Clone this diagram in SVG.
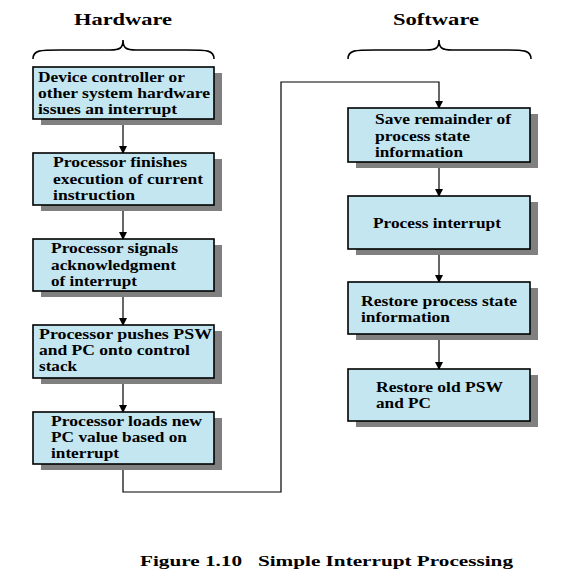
<svg xmlns="http://www.w3.org/2000/svg" width="576" height="584" viewBox="0 0 576 584">
<defs>
<marker id="ah" markerWidth="8" markerHeight="8" refX="7" refY="4" orient="auto" markerUnits="userSpaceOnUse">
<path d="M0,0 L8,4 L0,8 Z" fill="#000"/>
</marker>
</defs>
<style>
.box{fill:#C4E6F1;stroke:#000;stroke-width:1.6}
.sh{fill:#808080}
text{font-family:"Liberation Serif","Times New Roman",serif;font-weight:bold;fill:#000}
.t{font-size:15.5px}
.h{font-size:17px}
.c{font-size:15px}
.con{fill:none;stroke:#000;stroke-width:1.2}
.br{fill:none;stroke:#000;stroke-width:1.6}
</style>
<rect width="576" height="584" fill="#fff"/>
<g id="headers">
<text class="h" x="74" y="25" textLength="98" lengthAdjust="spacingAndGlyphs">Hardware</text>
<text class="h" x="393" y="25" textLength="86" lengthAdjust="spacingAndGlyphs">Software</text>
<path class="br" d="M33,59 C33,50 40,50 60,50 L110,50 C120,50 123,48 123,40 C123,48 126,50 136,50 L187,50 C207,50 214,50 214,59"/>
<path class="br" d="M348,59 C348,50 355,50 375,50 L426,50 C436,50 439,48 439,40 C439,48 442,50 452,50 L504,50 C524,50 531,50 531,59"/>
</g>
<g id="connectors">
<line class="con" x1="123" y1="119" x2="123" y2="153" marker-end="url(#ah)"/>
<line class="con" x1="123" y1="205" x2="123" y2="239" marker-end="url(#ah)"/>
<line class="con" x1="123" y1="291" x2="123" y2="325" marker-end="url(#ah)"/>
<line class="con" x1="123" y1="378" x2="123" y2="412" marker-end="url(#ah)"/>
<path class="con" d="M123,464 V492 H281 V82 H439 V108" marker-end="url(#ah)"/>
<line class="con" x1="439" y1="162" x2="439" y2="196" marker-end="url(#ah)"/>
<line class="con" x1="439" y1="249" x2="439" y2="282" marker-end="url(#ah)"/>
<line class="con" x1="439" y1="334" x2="439" y2="369" marker-end="url(#ah)"/>
</g>
<g id="h1">
<rect class="sh" x="41" y="73" width="181" height="52"/>
<rect class="box" x="33" y="67" width="181" height="52"/>
<text class="t" x="38" y="82" textLength="147" lengthAdjust="spacingAndGlyphs">Device controller or</text>
<text class="t" x="38" y="98" textLength="172" lengthAdjust="spacingAndGlyphs">other system hardware</text>
<text class="t" x="38" y="114" textLength="139" lengthAdjust="spacingAndGlyphs">issues an interrupt</text>
</g>
<g id="h2">
<rect class="sh" x="41" y="159" width="181" height="52"/>
<rect class="box" x="33" y="153" width="181" height="52"/>
<text class="t" x="53" y="167" textLength="134" lengthAdjust="spacingAndGlyphs">Processor finishes</text>
<text class="t" x="53" y="184" textLength="150" lengthAdjust="spacingAndGlyphs">execution of current</text>
<text class="t" x="53" y="200" textLength="82" lengthAdjust="spacingAndGlyphs">instruction</text>
</g>
<g id="h3">
<rect class="sh" x="41" y="245" width="181" height="52"/>
<rect class="box" x="33" y="239" width="181" height="52"/>
<text class="t" x="51" y="253" textLength="127" lengthAdjust="spacingAndGlyphs">Processor signals</text>
<text class="t" x="51" y="270" textLength="125" lengthAdjust="spacingAndGlyphs">acknowledgment</text>
<text class="t" x="51" y="286" textLength="86" lengthAdjust="spacingAndGlyphs">of interrupt</text>
</g>
<g id="h4">
<rect class="sh" x="41" y="331" width="181" height="53"/>
<rect class="box" x="33" y="325" width="181" height="53"/>
<text class="t" x="39" y="339" textLength="173" lengthAdjust="spacingAndGlyphs">Processor pushes PSW</text>
<text class="t" x="39" y="355" textLength="151" lengthAdjust="spacingAndGlyphs">and PC onto control</text>
<text class="t" x="39" y="371" textLength="38" lengthAdjust="spacingAndGlyphs">stack</text>
</g>
<g id="h5">
<rect class="sh" x="41" y="418" width="181" height="52"/>
<rect class="box" x="33" y="412" width="181" height="52"/>
<text class="t" x="51" y="426" textLength="151" lengthAdjust="spacingAndGlyphs">Processor loads new</text>
<text class="t" x="51" y="442" textLength="136" lengthAdjust="spacingAndGlyphs">PC value based on</text>
<text class="t" x="51" y="458" textLength="68" lengthAdjust="spacingAndGlyphs">interrupt</text>
</g>
<g id="s1">
<rect class="sh" x="356" y="114" width="182" height="54"/>
<rect class="box" x="348" y="108" width="182" height="54"/>
<text class="t" x="375" y="124" textLength="136" lengthAdjust="spacingAndGlyphs">Save remainder of</text>
<text class="t" x="375" y="141" textLength="95" lengthAdjust="spacingAndGlyphs">process state</text>
<text class="t" x="375" y="157" textLength="88" lengthAdjust="spacingAndGlyphs">information</text>
</g>
<g id="s2">
<rect class="sh" x="356" y="202" width="182" height="53"/>
<rect class="box" x="348" y="196" width="182" height="53"/>
<text class="t" x="373" y="228" textLength="128" lengthAdjust="spacingAndGlyphs">Process interrupt</text>
</g>
<g id="s3">
<rect class="sh" x="356" y="288" width="182" height="52"/>
<rect class="box" x="348" y="282" width="182" height="52"/>
<text class="t" x="361" y="306" textLength="156" lengthAdjust="spacingAndGlyphs">Restore process state</text>
<text class="t" x="361" y="322" textLength="89" lengthAdjust="spacingAndGlyphs">information</text>
</g>
<g id="s4">
<rect class="sh" x="356" y="375" width="182" height="52"/>
<rect class="box" x="348" y="369" width="182" height="52"/>
<text class="t" x="376" y="392" textLength="127" lengthAdjust="spacingAndGlyphs">Restore old PSW</text>
<text class="t" x="376" y="408" textLength="55" lengthAdjust="spacingAndGlyphs">and PC</text>
</g>
<g id="caption">
<text class="c" x="140" y="566" textLength="373" lengthAdjust="spacingAndGlyphs" xml:space="preserve">Figure 1.10   Simple Interrupt Processing</text>
</g>
</svg>
